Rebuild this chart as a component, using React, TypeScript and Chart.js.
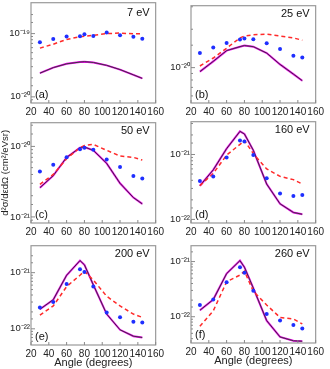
import React, { useEffect, useRef } from 'react';
import { Chart, registerables } from 'chart.js';
Chart.register(...registerables);

const angles = [30, 45, 60, 75, 80, 90, 105, 120, 135, 145];
const xTicks = [20, 40, 60, 80, 100, 120, 140, 160];

const expA = [7.3e-20, 8.2e-20, 9.0e-20, 9.1e-20, 9.8e-20, 9.2e-20, 1.04e-19, 9.4e-20, 8.9e-20, 8.3e-20];
const dashA = [5.9e-20, 6.8e-20, 8.1e-20, 8.9e-20, 9.1e-20, 9.4e-20, 1.0e-19, 1.02e-19, 9.9e-20, 1.0e-19];
const solidA = [2.37e-20, 2.9e-20, 3.33e-20, 3.55e-20, 3.6e-20, 3.5e-20, 3.15e-20, 2.7e-20, 2.23e-20, 1.96e-20];

const expB = [1.30e-20, 1.44e-20, 1.56e-20, 1.66e-20, 1.69e-20, 1.67e-20, 1.55e-20, 1.40e-20, 1.24e-20, 1.20e-20];
const dashB = [1.03e-20, 1.19e-20, 1.42e-20, 1.71e-20, 1.77e-20, 1.81e-20, 1.83e-20, 1.77e-20, 1.71e-20, 1.64e-20];
const solidB = [9.3e-21, 1.12e-20, 1.36e-20, 1.46e-20, 1.49e-20, 1.46e-20, 1.30e-20, 1.06e-20, 8.9e-21, 7.9e-21];

const expC = [4.4e-21, 5.5e-21, 7.0e-21, 9.1e-21, 9.6e-21, 9.0e-21, 6.5e-21, 5.1e-21, 3.8e-21, 3.5e-21];
const dashC = [2.9e-21, 4.0e-21, 6.7e-21, 9.6e-21, 1.03e-20, 1.07e-20, 8.8e-21, 7.3e-21, 7.0e-21, 6.4e-21];
const solidC = [2.6e-21, 3.85e-21, 7.0e-21, 9.6e-21, 9.8e-21, 8.8e-21, 5.75e-21, 3.0e-21, 1.88e-21, 1.53e-21];

const expD = [3.9e-22, 4.6e-22, 9.0e-22, 1.64e-21, 1.59e-21, 9.8e-22, 4.3e-22, 2.5e-22, 2.3e-22, 2.37e-22];
const dashD = [3.3e-22, 5.1e-22, 9.8e-22, 1.43e-21, 1.64e-21, 1.03e-21, 6.0e-22, 4.6e-22, 4.1e-22, 3.5e-22];
const solidD = [3.3e-22, 5.8e-22, 1.23e-21, 2.27e-21, 2.07e-21, 1.16e-21, 3.5e-22, 1.74e-22, 1.28e-22, 1.2e-22];

const expE = [2.4e-22, 3.0e-22, 6.3e-22, 1.15e-21, 1.03e-21, 5.65e-22, 1.95e-22, 1.6e-22, 1.34e-22, 1.29e-22];
const dashE = [1.75e-22, 2.55e-22, 5.65e-22, 9.0e-22, 1.06e-21, 7.4e-22, 3.8e-22, 2.55e-22, 1.83e-22, 1.6e-22];
const solidE = [2.23e-22, 3.3e-22, 9.0e-22, 1.64e-21, 1.38e-21, 6.05e-22, 1.83e-22, 9.6e-23, 7.4e-23, 7.0e-23];

const expF = [1.63e-22, 2.05e-22, 4.2e-22, 7.9e-22, 6.3e-22, 2.96e-22, 1.12e-22, 8.5e-23, 7.1e-23, 6.1e-23];
const dashF = [6.7e-23, 1.28e-22, 4.3e-22, 5.7e-22, 6.7e-22, 2.9e-22, 1.63e-22, 9.7e-23, 9.1e-23, 7.4e-23];
const solidF = [1.31e-22, 2.05e-22, 6.05e-22, 1.04e-21, 7.9e-22, 3.3e-22, 8.5e-23, 4.3e-23, 3.66e-23, 3.6e-23];

const FONT = "'Liberation Sans', Arial, sans-serif";

type PanelDef = {
  energy: string; letter: string;
  exp: number[]; dash: number[]; solid: number[];
  yMin: number; yMax: number;
  L: number; T: number; R: number; B: number;
  xTitle?: string; yTitle?: string;
};

const panels: PanelDef[] = [
  { energy: '7 eV', letter: '(a)', exp: expA, dash: dashA, solid: solidA, yMin: 8.0e-21, yMax: 3.08e-19, L: 31, T: 0, R: 163, B: 103 },
  { energy: '25 eV', letter: '(b)', exp: expB, dash: dashB, solid: solidB, yMin: 5.28e-21, yMax: 3.06e-20, L: 191, T: 3, R: 323, B: 103 },
  { energy: '50 eV', letter: '(c)', exp: expC, dash: dashC, solid: solidC, yMin: 8.2e-22, yMax: 2.17e-20, L: 31, T: 120, R: 163, B: 223, yTitle: 'd²σ/dεdΩ (cm²/eVsr)' },
  { energy: '160 eV', letter: '(d)', exp: expD, dash: dashD, solid: solidD, yMin: 8.8e-23, yMax: 3.2e-21, L: 191, T: 119, R: 323, B: 223 },
  { energy: '200 eV', letter: '(e)', exp: expE, dash: dashE, solid: solidE, yMin: 5.15e-23, yMax: 3.02e-21, L: 31, T: 243, R: 163, B: 345, xTitle: 'Angle (degrees)' },
  { energy: '260 eV', letter: '(f)', exp: expF, dash: dashF, solid: solidF, yMin: 3.34e-23, yMax: 1.94e-21, L: 191, T: 243, R: 323, B: 343, xTitle: 'Angle (degrees)' },
];

const SUP: Record<string, string> = { '0': '⁰', '1': '¹', '2': '²', '3': '³', '4': '⁴', '5': '⁵', '6': '⁶', '7': '⁷', '8': '⁸', '9': '⁹', '-': '⁻' };
const isDecade = (v: number) => Math.abs(Math.log10(v) - Math.round(Math.log10(v))) < 1e-6;
const decadeLabel = (v: number) => '10' + String(Math.round(Math.log10(v))).split('').map((c) => SUP[c] || c).join('');

const YW = 30;
const PADT = 4;
const PADR = 4;

function Panel({ p }: { p: PanelDef }) {
  const ref = useRef<HTMLCanvasElement>(null);
  const xH = p.xTitle ? 25 : 14;
  const width = p.R - p.L + YW + PADR;
  const height = p.B - p.T + PADT + xH;
  useEffect(() => {
    if (!ref.current) return;
    const deco = {
      id: 'deco',
      afterDraw(chart: any) {
        const { ctx, chartArea: a, scales } = chart;
        ctx.save();
        ctx.strokeStyle = '#9a9a9a';
        ctx.lineWidth = 1.2;
        ctx.strokeRect(a.left, a.top, a.right - a.left, a.bottom - a.top);
        ctx.lineWidth = 1;
        ctx.strokeStyle = '#8a8a8a';
        for (const v of xTicks) {
          const x = scales.x.getPixelForValue(v);
          ctx.beginPath();
          ctx.moveTo(x, a.bottom);
          ctx.lineTo(x, a.bottom - 3);
          ctx.stroke();
        }
        for (const t of scales.y.ticks) {
          const y = scales.y.getPixelForValue(t.value);
          if (y < a.top + 1 || y > a.bottom - 1) continue;
          const len = isDecade(t.value) ? 4 : 2;
          ctx.beginPath();
          ctx.moveTo(a.left, y);
          ctx.lineTo(a.left + len, y);
          ctx.stroke();
        }
        ctx.fillStyle = '#111';
        ctx.font = `11px ${FONT}`;
        ctx.textBaseline = 'middle';
        ctx.textAlign = 'right';
        ctx.fillText(p.energy, a.right - 6, a.top + (p.T === 0 ? 10 : 8));
        ctx.textAlign = 'left';
        ctx.fillText(p.letter, a.left + 4, a.bottom - 8);
        ctx.restore();
      },
    };
    const chart = new Chart(ref.current, {
      type: 'line',
      data: {
        labels: angles,
        datasets: [
          {
            label: 'Experiment',
            data: angles.map((a, i) => ({ x: a, y: p.exp[i] })),
            showLine: false,
            pointRadius: 2,
            pointStyle: 'circle',
            pointBackgroundColor: '#1f2fff',
            pointBorderColor: '#1f2fff',
            pointBorderWidth: 0,
            order: 0,
          },
          {
            label: 'Model 1',
            data: angles.map((a, i) => ({ x: a, y: p.dash[i] })),
            borderColor: '#ff2a2a',
            borderWidth: 1.5,
            borderDash: [4, 3],
            pointRadius: 0,
            tension: 0,
            order: 1,
          },
          {
            label: 'Model 2',
            data: angles.map((a, i) => ({ x: a, y: p.solid[i] })),
            borderColor: '#3a3a3a',
            borderWidth: 1,
            pointRadius: 0,
            tension: 0,
            order: 2,
          },
          {
            label: 'Model 3',
            data: angles.map((a, i) => ({ x: a, y: p.solid[i] })),
            borderColor: '#f000f0',
            borderWidth: 2,
            pointRadius: 0,
            tension: 0,
            order: 3,
          },
        ],
      },
      options: {
        animation: false,
        responsive: false,
        maintainAspectRatio: false,
        layout: { padding: { top: PADT, right: PADR, left: 0, bottom: 0 } },
        plugins: { legend: { display: false }, tooltip: { enabled: false } },
        scales: {
          x: {
            type: 'linear',
            min: 20,
            max: 160,
            afterFit: (s: any) => { s.height = xH; },
            grid: { display: false, drawTicks: false },
            border: { display: false },
            ticks: { stepSize: 20, autoSkip: false, maxRotation: 0, padding: 3, color: '#222', font: { size: 10, family: FONT } },
            title: p.xTitle
              ? { display: true, text: p.xTitle, color: '#222', padding: 0, font: { size: 11, family: FONT } }
              : { display: false },
          },
          y: {
            type: 'logarithmic',
            min: p.yMin,
            max: p.yMax,
            afterFit: (s: any) => { s.width = YW; },
            grid: { display: false, drawTicks: false },
            border: { display: false },
            ticks: {
              autoSkip: false,
              padding: 1,
              color: '#222',
              font: { size: 9.5, family: FONT },
              callback: (v: any) => (isDecade(Number(v)) ? decadeLabel(Number(v)) : ''),
            },
            title: p.yTitle
              ? { display: true, text: p.yTitle, color: '#222', padding: { top: -1, bottom: 0 }, font: { size: 9.5, family: FONT } }
              : { display: false },
          },
        },
      },
      plugins: [deco],
    } as any);
    return () => chart.destroy();
  }, []);
  return (
    <canvas
      ref={ref}
      width={width}
      height={height}
      style={{ position: 'absolute', left: p.L - YW, top: p.T - PADT, width, height }}
    />
  );
}

export default function App() {
  return (
    <div style={{ position: 'absolute', left: 0, top: 0, width: 330, height: 369, background: '#fff', overflow: 'hidden' }}>
      {panels.map((p) => (
        <Panel key={p.letter} p={p} />
      ))}
    </div>
  );
}
